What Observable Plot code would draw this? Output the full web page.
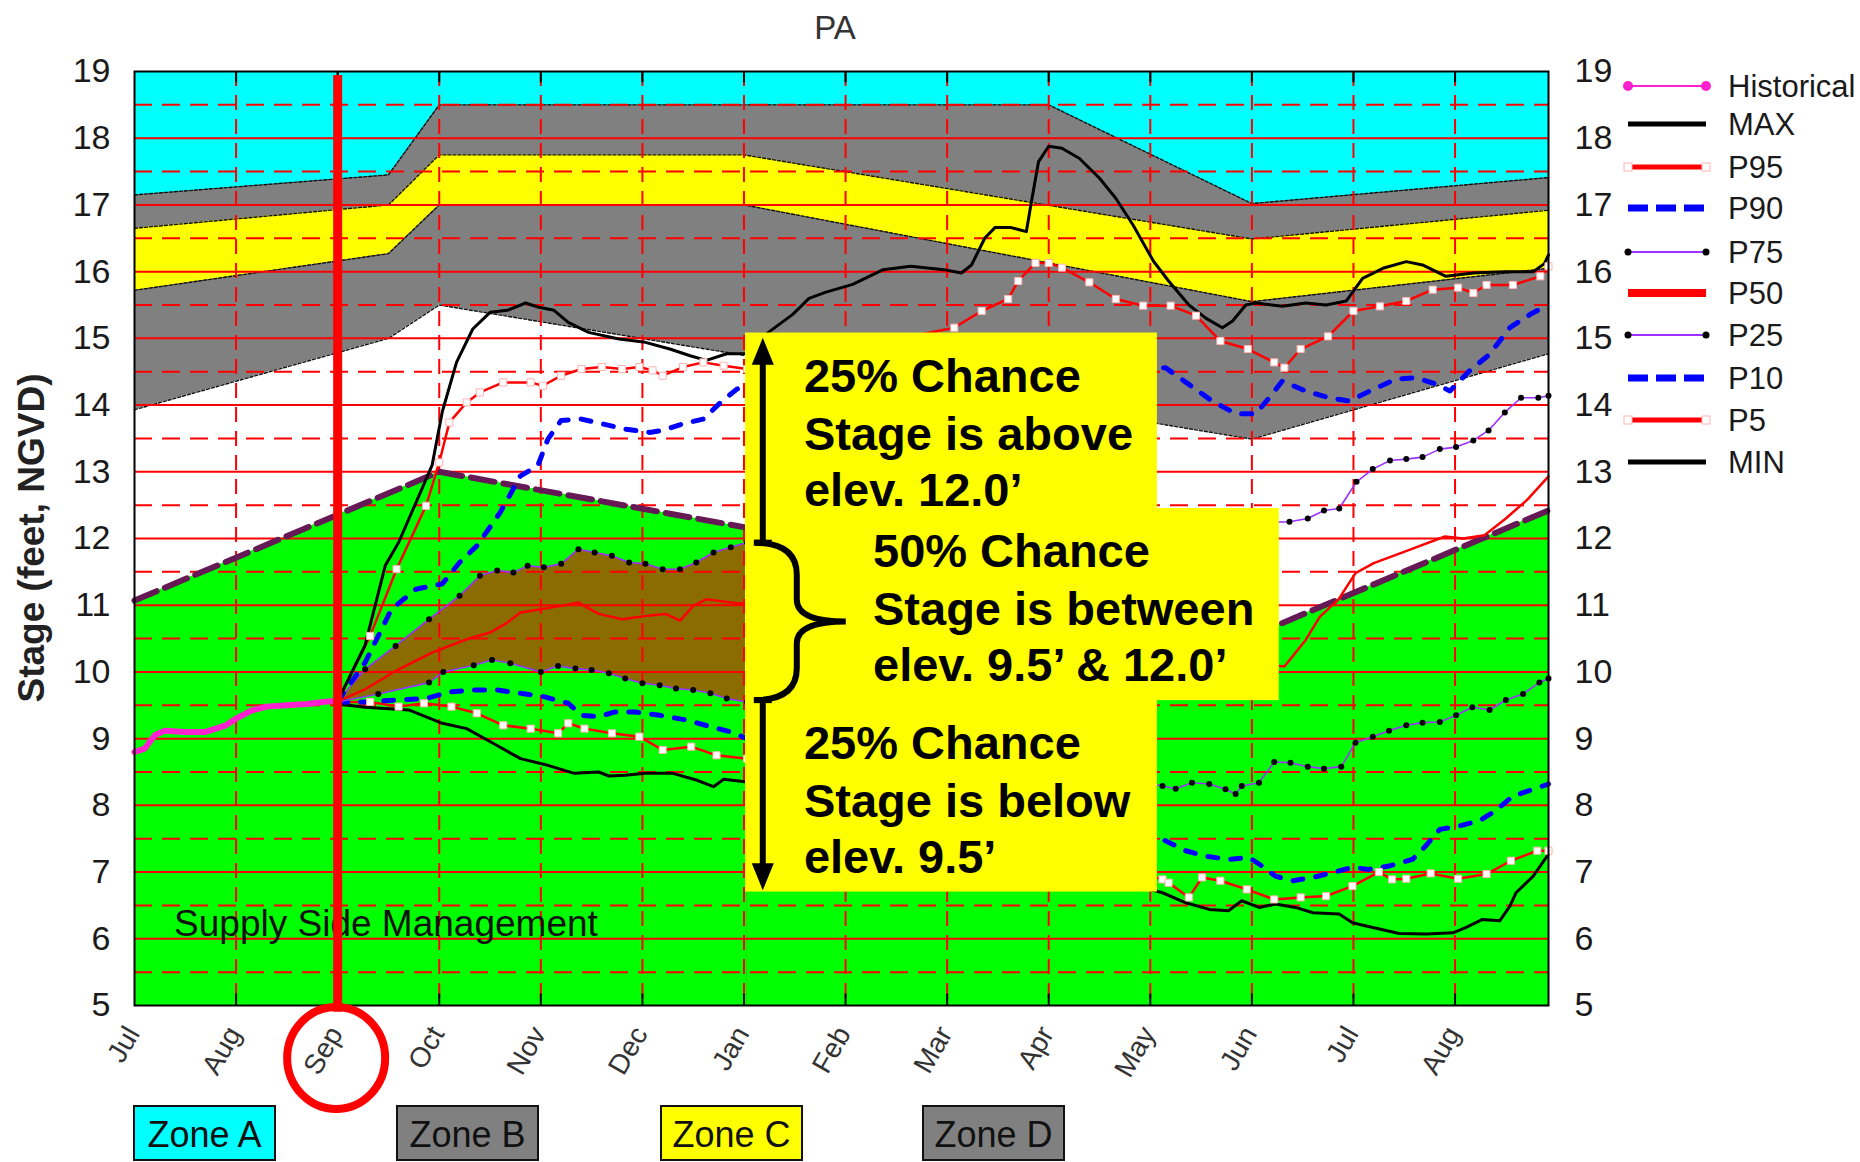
<!DOCTYPE html>
<html><head><meta charset="utf-8">
<script src="https://cdn.jsdelivr.net/npm/d3@7"></script>
<script src="https://cdn.jsdelivr.net/npm/@observablehq/plot@0.6"></script>
<style>html,body{margin:0;padding:0;background:#fff;overflow:hidden} svg{display:block}</style>
</head><body><div id="chart"></div>
<script>
// ---------- data ----------
const monthLabels = ["Jul","Aug","Sep","Oct","Nov","Dec","Jan","Feb","Mar","Apr","May","Jun","Jul","Aug"];
const yTicks = [5,6,7,8,9,10,11,12,13,14,15,16,17,18,19];

// zone boundaries [month index from Jul 1, stage ft]
const zoneB_top    = [[0,17.15],[2.5,17.45],[3,18.5],[9,18.5],[11,17.02],[13.92,17.41]];
const zoneC_top    = [[0,16.65],[2.5,17.0],[3,17.75],[6,17.75],[11,16.49],[13.92,16.92]];
const zoneC_bottom = [[0,15.72],[2.5,16.27],[3,17.0],[6,17.0],[11,15.55],[13.92,16.05]];
const zoneD_bottom = [[0,13.93],[2.5,15.0],[3,15.5],[11,13.49],[13.92,14.77]];
const supplySide   = [[0,11.07],[3,13.0],[6,12.17],[11.25,10.7],[13.92,12.42]];

const historical = [[0,8.8],[0.1,8.85],[0.2,9.05],[0.3,9.12],[0.5,9.1],[0.7,9.1],[0.9,9.2],[1.0,9.3],[1.15,9.42],[1.3,9.48],[1.5,9.5],[1.7,9.52],[1.85,9.55],[2.0,9.57]];

const MAX = [[2,9.56],[2.27,10.4],[2.47,11.6],[2.6,11.94],[2.8,12.64],[2.93,13.1],[3.03,13.9],[3.17,14.64],[3.33,15.14],[3.5,15.39],[3.67,15.42],[3.85,15.53],[3.97,15.47],[4.13,15.42],[4.27,15.24],[4.47,15.09],[4.77,14.99],[5.03,14.94],[5.27,14.84],[5.47,14.74],[5.63,14.67],[5.83,14.77],[6.03,14.77],[6.24,15.09],[6.48,15.36],[6.64,15.6],[6.8,15.69],[7.07,15.81],[7.37,16.03],[7.64,16.08],[7.97,16.03],[8.14,15.98],[8.24,16.1],[8.37,16.5],[8.47,16.66],[8.63,16.66],[8.78,16.6],[8.83,17.05],[8.9,17.65],[9.0,17.88],[9.13,17.85],[9.3,17.7],[9.5,17.4],[9.66,17.1],[9.83,16.7],[10.03,16.16],[10.18,15.86],[10.38,15.5],[10.55,15.3],[10.71,15.16],[10.81,15.26],[10.94,15.5],[11.04,15.53],[11.3,15.48],[11.53,15.53],[11.73,15.5],[11.93,15.56],[12.09,15.9],[12.29,16.05],[12.52,16.15],[12.68,16.1],[12.91,15.93],[13.18,15.98],[13.5,16.0],[13.77,16.0],[13.88,16.12],[13.92,16.25]];

const P95 = [[2,9.56],[2.32,10.54],[2.58,11.54],[2.87,12.49],[3.0,13.14],[3.1,13.74],[3.27,14.04],[3.4,14.19],[3.63,14.34],[3.9,14.34],[4.02,14.29],[4.2,14.44],[4.4,14.54],[4.6,14.57],[4.8,14.54],[4.97,14.57],[5.1,14.52],[5.2,14.44],[5.4,14.57],[5.6,14.64],[5.8,14.59],[6.03,14.54],[8.07,15.16],[8.34,15.41],[8.6,15.59],[8.7,15.86],[8.87,16.13],[9.0,16.13],[9.13,16.06],[9.4,15.84],[9.66,15.59],[9.93,15.49],[10.2,15.49],[10.45,15.34],[10.69,14.96],[10.96,14.84],[11.22,14.64],[11.32,14.56],[11.48,14.84],[11.75,15.03],[12.0,15.41],[12.26,15.48],[12.52,15.56],[12.78,15.73],[13.03,15.76],[13.18,15.68],[13.31,15.8],[13.57,15.8],[13.84,15.93],[13.92,16.08]];

const P90 = [[2,9.56],[2.27,10.14],[2.53,10.94],[2.77,11.24],[3.03,11.32],[3.2,11.64],[3.37,11.89],[3.6,12.39],[3.8,12.94],[3.97,13.09],[4.07,13.49],[4.2,13.77],[4.4,13.79],[4.6,13.72],[4.83,13.64],[5.07,13.59],[5.2,13.62],[5.4,13.72],[5.6,13.79],[5.77,14.04],[5.93,14.24],[6.03,14.29],[10.15,14.56],[10.38,14.31],[10.61,14.06],[10.84,13.87],[11.04,13.87],[11.17,14.11],[11.3,14.36],[11.53,14.21],[11.76,14.11],[11.96,14.06],[12.16,14.21],[12.42,14.39],[12.62,14.41],[12.82,14.31],[12.95,14.21],[13.14,14.51],[13.34,14.76],[13.54,15.16],[13.74,15.36],[13.92,15.5]];

const P75 = [[2,9.56],[2.27,10.04],[2.57,10.39],[2.9,10.79],[3.2,11.14],[3.4,11.44],[3.57,11.52],[3.73,11.49],[3.87,11.59],[4.03,11.57],[4.2,11.62],[4.37,11.84],[4.53,11.79],[4.7,11.74],[4.87,11.64],[5.03,11.62],[5.2,11.54],[5.37,11.54],[5.53,11.64],[5.7,11.79],[5.87,11.87],[6.03,11.94],[11.37,12.25],[11.55,12.3],[11.71,12.42],[11.86,12.45],[12.03,12.85],[12.19,13.04],[12.36,13.17],[12.52,13.19],[12.68,13.22],[12.85,13.34],[13.01,13.37],[13.18,13.47],[13.33,13.62],[13.49,13.89],[13.65,14.11],[13.82,14.11],[13.92,14.14]];

const P50 = [[2,9.56],[2.27,9.74],[2.6,10.04],[2.93,10.29],[3.27,10.49],[3.5,10.59],[3.67,10.74],[3.8,10.89],[4.0,10.94],[4.2,10.99],[4.37,11.04],[4.57,10.87],[4.8,10.79],[5.03,10.84],[5.23,10.87],[5.37,10.77],[5.5,10.99],[5.63,11.09],[5.87,11.04],[6.03,11.02],[11.32,10.08],[11.53,10.48],[11.67,10.83],[11.85,11.08],[12.02,11.48],[12.2,11.63],[12.55,11.83],[12.9,12.03],[13.08,12.0],[13.29,12.05],[13.5,12.3],[13.71,12.58],[13.92,12.93]];

const P25 = [[2,9.55],[2.4,9.67],[2.9,9.84],[3.04,10.0],[3.34,10.1],[3.52,10.18],[3.7,10.13],[4.0,10.0],[4.17,10.09],[4.34,10.05],[4.5,10.03],[4.67,9.98],[4.83,9.9],[5.0,9.83],[5.17,9.8],[5.33,9.75],[5.5,9.73],[5.67,9.68],[5.83,9.6],[6.03,9.55],[10.12,8.29],[10.25,8.25],[10.41,8.34],[10.58,8.32],[10.74,8.24],[10.84,8.17],[10.9,8.29],[11.07,8.34],[11.22,8.65],[11.38,8.64],[11.55,8.58],[11.71,8.55],[11.88,8.58],[12.02,8.94],[12.19,9.03],[12.35,9.12],[12.52,9.2],[12.68,9.24],[12.85,9.25],[13.01,9.35],[13.17,9.47],[13.34,9.43],[13.5,9.58],[13.67,9.67],[13.83,9.84],[13.92,9.9]];

const P10 = [[2,9.55],[2.27,9.55],[2.6,9.58],[2.87,9.6],[3.1,9.7],[3.33,9.73],[3.57,9.73],[3.8,9.68],[4.03,9.63],[4.27,9.53],[4.4,9.35],[4.57,9.33],[4.73,9.4],[4.93,9.4],[5.17,9.35],[5.43,9.28],[5.67,9.18],[5.87,9.1],[6.03,9.0],[10.12,7.49],[10.35,7.32],[10.54,7.24],[10.77,7.19],[10.97,7.22],[11.1,7.09],[11.23,6.94],[11.4,6.87],[11.6,6.92],[11.79,6.99],[11.99,7.07],[12.15,7.04],[12.35,7.09],[12.58,7.19],[12.71,7.39],[12.85,7.64],[13.04,7.69],[13.24,7.77],[13.4,7.92],[13.57,8.14],[13.77,8.24],[13.92,8.32]];

const P5 = [[2,9.55],[2.32,9.55],[2.6,9.48],[2.85,9.53],[3.12,9.48],[3.37,9.38],[3.63,9.2],[3.9,9.15],[4.17,9.08],[4.27,9.23],[4.43,9.15],[4.7,9.08],[4.97,9.03],[5.2,8.83],[5.48,8.88],[5.73,8.75],[6.03,8.7],[10.12,6.89],[10.18,6.84],[10.38,6.62],[10.51,6.92],[10.69,6.87],[10.95,6.74],[11.22,6.59],[11.48,6.62],[11.73,6.64],[11.99,6.79],[12.25,7.0],[12.38,6.89],[12.52,6.9],[12.76,6.98],[13.03,6.9],[13.31,6.97],[13.55,7.17],[13.81,7.32],[13.92,7.32]];

const MIN = [[2,9.52],[2.27,9.47],[2.7,9.43],[3.03,9.23],[3.27,9.15],[3.53,8.93],[3.8,8.7],[4.07,8.6],[4.33,8.48],[4.57,8.5],[4.67,8.44],[4.83,8.45],[5.03,8.48],[5.3,8.48],[5.53,8.38],[5.7,8.28],[5.8,8.39],[6.03,8.35],[10.12,6.69],[10.35,6.54],[10.58,6.44],[10.77,6.42],[10.9,6.57],[11.07,6.47],[11.23,6.52],[11.43,6.47],[11.6,6.39],[11.86,6.37],[11.99,6.24],[12.19,6.17],[12.45,6.08],[12.72,6.07],[12.98,6.09],[13.11,6.17],[13.27,6.29],[13.44,6.27],[13.54,6.49],[13.6,6.69],[13.77,6.94],[13.92,7.27]];

const legendNames = ["Historical","MAX","P95","P90","P75","P50","P25","P10","P5","MIN"];
const zoneNames = ["Zone A","Zone B","Zone C","Zone D"];

// annotation layout (data units)
const noteBoxes = [{x1:6.015,x2:10.07,y1:6.70,y2:15.08},{x1:6.015,x2:11.27,y1:9.57,y2:12.45}];
const noteText = [
  {x:6.59,y:14.19,t:"25% Chance"},{x:6.59,y:13.33,t:"Stage is above"},{x:6.59,y:12.48,t:"elev. 12.0\u2019"},
  {x:7.27,y:11.57,t:"50% Chance"},{x:7.27,y:10.71,t:"Stage is between"},{x:7.27,y:9.86,t:"elev. 9.5\u2019 & 12.0\u2019"},
  {x:6.59,y:8.69,t:"25% Chance"},{x:6.59,y:7.83,t:"Stage is below"},{x:6.59,y:6.98,t:"elev. 9.5\u2019"}
];

// ---------- styles ----------
const FONT = "'Liberation Sans', Arial, sans-serif";
const C = {cyan:"#00ffff", gray:"#808080", yellow:"#ffff00", green:"#00ff00", brown:"#8b6c00",
  red:"#ff0000", blue:"#0000ff", purple:"#9b30ff", magenta:"#ff20d0", ssm:"#661a55"};
const X = d => d[0], Y = d => d[1];
const upTo6 = arr => arr.filter(d => d[0] <= 6.05);

const chart = Plot.plot({
  width: 1860, height: 1162,
  marginLeft: 134, marginRight: 312, marginTop: 71, marginBottom: 157,
  x: {domain: [0, 13.92], axis: null},
  y: {domain: [5, 19], axis: null},
  style: {background: "white", fontFamily: FONT, fontSize: "30px", color: "#1a1a1a"},
  marks: [
    Plot.frame({fill: C.cyan}),
    Plot.areaY(zoneB_top, {x: X, y1: 5, y2: Y, fill: C.gray}),
    Plot.areaY(zoneC_top, {x: X, y1: 5, y2: Y, fill: C.yellow}),
    Plot.areaY(zoneC_bottom, {x: X, y1: 5, y2: Y, fill: C.gray}),
    Plot.areaY(zoneD_bottom, {x: X, y1: 5, y2: Y, fill: "white"}),
    Plot.areaY(supplySide, {x: X, y1: 5, y2: Y, fill: C.green}),
    Plot.areaY(upTo6(P75), {x: X, y1: 5, y2: Y, fill: C.brown}),
    Plot.areaY(upTo6(P25), {x: X, y1: 5, y2: Y, fill: C.green}),
    ...[zoneB_top, zoneC_top, zoneC_bottom, zoneD_bottom].map(b =>
      Plot.line(b, {x: X, y: Y, stroke: "#111", strokeWidth: 1.4, strokeDasharray: "3,2"})),
    // grid
    Plot.ruleY(d3.range(6, 19), {stroke: C.red, strokeWidth: 2}),
    Plot.ruleY(d3.range(5.5, 19, 1), {stroke: C.red, strokeWidth: 2, strokeDasharray: "18,10"}),
    Plot.ruleX(d3.range(1, 14), {stroke: C.red, strokeWidth: 2, strokeDasharray: "15,9"}),
    Plot.line(supplySide, {x: X, y: Y, stroke: C.ssm, strokeWidth: 6, strokeDasharray: "24,9"}),
    Plot.ruleX(d3.range(1, 14), {y1: 5, y2: 5.17, stroke: "black", strokeWidth: 2}),
    Plot.ruleX(d3.range(1, 14), {y1: 18.83, y2: 19, stroke: "black", strokeWidth: 2}),
    Plot.text(["Supply Side Management"], {x: 0.39, y: 6.04, lineAnchor: "bottom", textAnchor: "start", fontSize: 37, fill: "#111"}),
    // series
    Plot.line(historical, {x: X, y: Y, stroke: C.magenta, strokeWidth: 6, strokeLinejoin: "round"}),
    Plot.line(MIN, {x: X, y: Y, stroke: "black", strokeWidth: 3}),
    Plot.line(P5, {x: X, y: Y, stroke: C.red, strokeWidth: 2.5}),
    Plot.line(P10, {x: X, y: Y, stroke: C.blue, strokeWidth: 5, strokeDasharray: "10,13", strokeLinecap: "round"}),
    Plot.line(P25, {x: X, y: Y, stroke: C.purple, strokeWidth: 1.6}),
    Plot.line(P50, {x: X, y: Y, stroke: C.red, strokeWidth: 2.5}),
    Plot.line(P75, {x: X, y: Y, stroke: C.purple, strokeWidth: 1.6}),
    Plot.line(P90, {x: X, y: Y, stroke: C.blue, strokeWidth: 5, strokeDasharray: "10,13", strokeLinecap: "round"}),
    Plot.line(P95, {x: X, y: Y, stroke: C.red, strokeWidth: 2.5}),
    Plot.line(MAX, {x: X, y: Y, stroke: "black", strokeWidth: 3}),
    Plot.dot(P25.slice(1), {x: X, y: Y, r: 3, fill: "black"}),
    Plot.dot(P75.slice(1), {x: X, y: Y, r: 3, fill: "black"}),
    Plot.dot(P5.slice(1), {x: X, y: Y, symbol: "square", r: 4, fill: "white", stroke: "#ffb3b3", strokeWidth: 1}),
    Plot.dot(P95.slice(1), {x: X, y: Y, symbol: "square", r: 4, fill: "white", stroke: "#ffb3b3", strokeWidth: 1}),
    Plot.frame({stroke: "black", strokeWidth: 2}),
    Plot.ruleX([2], {y1: 18.94, y2: 4.9, stroke: C.red, strokeWidth: 9}),
    // annotation
    Plot.rect(noteBoxes, {x1: "x1", x2: "x2", y1: "y1", y2: "y2", fill: C.yellow}),
    Plot.text(noteText, {x: "x", y: "y", text: "t", textAnchor: "start", lineAnchor: "bottom", fontSize: 47, fontWeight: "bold", fill: "black"}),
    // axes
    Plot.text(yTicks, {y: d => d, text: d => String(d), frameAnchor: "left", dx: -24, textAnchor: "end", fontSize: 34, fill: "#1a1a1a"}),
    Plot.text(yTicks, {y: d => d, text: d => String(d), frameAnchor: "right", dx: 26, textAnchor: "start", fontSize: 34, fill: "#1a1a1a"}),
    Plot.text(monthLabels, {x: (d, i) => i, text: d => d, frameAnchor: "bottom", rotate: -60, textAnchor: "end", dx: 6, dy: 28, fontSize: 28, fill: "#333"})
  ]
});
document.getElementById("chart").appendChild(chart);

// ---------- decorations ----------
const sx = chart.scale("x"), sy = chart.scale("y");
const px = v => sx.apply(v), py = v => sy.apply(v);
const svg = d3.select(chart);
const g = svg.append("g").style("font-family", FONT).attr("text-anchor", "start");

// title
g.append("text").attr("x", 835).attr("y", 27).attr("text-anchor", "middle").attr("dominant-baseline", "central")
  .style("font-size", "33px").attr("fill", "#333").text("PA");
// y-axis title
g.append("text").attr("transform", "translate(31,538) rotate(-90)").attr("text-anchor", "middle")
  .attr("dominant-baseline", "central").style("font-size", "37px").style("font-weight", "bold").attr("fill", "#222")
  .text("Stage (feet, NGVD)");

// arrows
const ax = px(6.19);
function arrow(yFoot, yTip) {
  const tip = py(yTip), foot = py(yFoot);
  const dir = tip < foot ? -1 : 1; // -1: pointing up (in pixels)
  g.append("line").attr("x1", ax).attr("x2", ax).attr("y1", foot).attr("y2", tip - dir * 20)
    .attr("stroke", "black").attr("stroke-width", 6);
  g.append("path").attr("d", `M${ax},${tip} L${ax - 11},${tip - dir * 27} L${ax + 11},${tip - dir * 27} Z`).attr("fill", "black");
  g.append("line").attr("x1", ax - 9).attr("x2", ax + 9).attr("y1", foot).attr("y2", foot)
    .attr("stroke", "black").attr("stroke-width", 6);
}
arrow(11.93, 15.0);
arrow(9.57, 6.72);

// brace
const bt = py(11.93), bb = py(9.57), bm = (bt + bb) / 2;
const bl = px(6.19) - 8, bv = px(6.19) + 34, bp = px(6.19) + 83;
g.append("path").attr("d",
  `M${bl},${bt} Q${bv},${bt} ${bv},${bt + 32} L${bv},${bm - 22} Q${bv},${bm} ${bp},${bm} Q${bv},${bm} ${bv},${bm + 22} L${bv},${bb - 32} Q${bv},${bb} ${bl},${bb}`)
  .attr("fill", "none").attr("stroke", "black").attr("stroke-width", 6);

// circle around Sep
g.append("ellipse").attr("cx", px(2) - 1).attr("cy", 1058).attr("rx", 49).attr("ry", 51)
  .attr("fill", "none").attr("stroke", C.red).attr("stroke-width", 8);

// zone legend
const zoneFill = [C.cyan, C.gray, C.yellow, C.gray];
const zoneX = [134, 397, 661, 923];
zoneNames.forEach((z, i) => {
  g.append("rect").attr("x", zoneX[i]).attr("y", 1106).attr("width", 141).attr("height", 54)
    .attr("fill", zoneFill[i]).attr("stroke", "#111").attr("stroke-width", 2);
  g.append("text").attr("x", zoneX[i] + 70.5).attr("y", 1134).attr("text-anchor", "middle")
    .attr("dominant-baseline", "central").style("font-size", "36px").attr("fill", "#111").text(z);
});

// series legend
const legY = [86, 124, 167, 208, 252, 293, 335, 378, 420, 462];
const lx1 = 1628, lx2 = 1706;
legendNames.forEach((name, i) => {
  const y = legY[i];
  const line = (stroke, w, dash) => g.append("line").attr("x1", lx1).attr("x2", lx2).attr("y1", y).attr("y2", y)
    .attr("stroke", stroke).attr("stroke-width", w).attr("stroke-dasharray", dash || null);
  if (name === "Historical") {
    line(C.magenta, 2);
    [lx1, lx2].forEach(x => g.append("circle").attr("cx", x).attr("cy", y).attr("r", 5).attr("fill", C.magenta));
  } else if (name === "MAX" || name === "MIN") {
    line("black", 5);
  } else if (name === "P95" || name === "P5") {
    line(C.red, 5);
    [lx1, lx2].forEach(x => g.append("rect").attr("x", x - 4).attr("y", y - 4).attr("width", 8).attr("height", 8)
      .attr("fill", "white").attr("stroke", "#ffb3b3"));
  } else if (name === "P90" || name === "P10") {
    line(C.blue, 7, "20,8");
  } else if (name === "P75" || name === "P25") {
    line(C.purple, 2);
    [lx1, lx2].forEach(x => g.append("circle").attr("cx", x).attr("cy", y).attr("r", 3.5).attr("fill", "black"));
  } else if (name === "P50") {
    line(C.red, 8);
  }
  g.append("text").attr("x", 1728).attr("y", y).attr("text-anchor", "start").attr("dominant-baseline", "central")
    .style("font-size", "31px").attr("fill", "#1a1a1a").text(name);
});
</script>
</body></html>
